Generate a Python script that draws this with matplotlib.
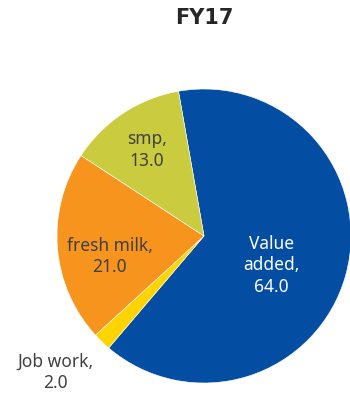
import matplotlib
matplotlib.use('Agg')
import matplotlib.pyplot as plt

# FY17 revenue mix
categories = ['Value added', 'Job work', 'fresh milk', 'smp']
values = [64.0, 2.0, 21.0, 13.0]
colors = ['#034EA2', '#FFD400', '#F7941D', '#CBCB40']
text_colors = ['white', '#404040', '#404040', '#404040']
# label spots in pie units (radius = 1)
label_pos = [(0.46, -0.20), (-1.01, -0.93), (-0.64, -0.14), (-0.39, 0.585)]

plt.rcParams['font.family'] = ['Noto Sans', 'DejaVu Sans']

fig = plt.figure(figsize=(3.5, 3.94), dpi=100)
ax = fig.add_axes([0, 0, 1, 1])

ax.pie(values, colors=colors, startangle=100, counterclock=False,
       radius=1, wedgeprops=dict(edgecolor='white', linewidth=0.4))

for cat, val, (x, y), tc in zip(categories, values, label_pos, text_colors):
    if cat == 'Value added':
        txt = 'Value\nadded,\n%.1f' % val
    else:
        txt = '%s,\n%.1f' % (cat, val)
    ax.text(x, y, txt, ha='center', va='center', fontsize=12.5,
            color=tc, linespacing=1.25)

ax.set_xlim(-204 / 147, 146 / 147)
ax.set_ylim(-158 / 147, 236 / 147)
ax.set_aspect('auto')
ax.axis('off')

fig.text(204 / 350, 1 - 18 / 394, 'FY17', ha='center', va='center',
         fontsize=15, fontweight='bold', color='#262626',
         family='DejaVu Sans')

fig.savefig('out.png', dpi=100)
